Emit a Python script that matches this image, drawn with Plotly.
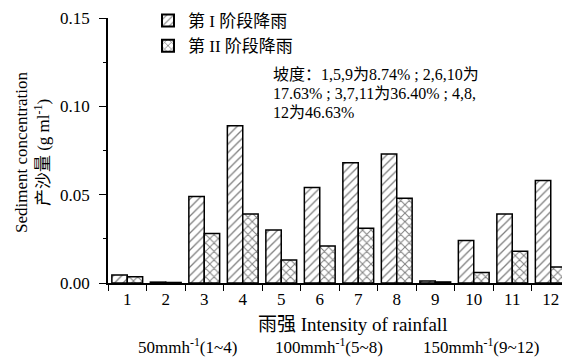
import plotly.graph_objects as go

categories = ["1", "2", "3", "4", "5", "6", "7", "8", "9", "10", "11", "12"]
stage1 = [0.0045, 0.0005, 0.049, 0.089, 0.030, 0.054, 0.068, 0.073, 0.0012, 0.024, 0.039, 0.058]
stage2 = [0.0035, 0.0003, 0.028, 0.039, 0.013, 0.021, 0.031, 0.048, 0.0006, 0.006, 0.018, 0.009]
series_names = ["第 I 阶段降雨", "第 II 阶段降雨"]
y_ticks = [0.0, 0.05, 0.10, 0.15]
y_tick_labels = ["0.00", "0.05", "0.10", "0.15"]

FONT = "Liberation Serif, Noto Sans CJK SC, serif"
OFF = 8  # default page body margin
PW, PH = 570, 361
W, H = PW - OFF, PH - OFF
# plot area in page pixels
X0, X1, Y0, Y1 = 108, 570, 18, 283
L, R, T, B = X0 - OFF, PW - X1, Y0 - OFF, PH - Y1

def px(x):
    return (x - X0) / (X1 - X0)

def py(y):
    return (Y1 - y) / (Y1 - Y0)

fig = go.Figure()
fig.add_trace(go.Bar(
    x=categories, y=stage1, name=series_names[0],
    marker=dict(color="white", line=dict(color="black", width=1.5),
                pattern=dict(shape="/", fgcolor="black", bgcolor="white", size=6, solidity=0.22)),
))
fig.add_trace(go.Bar(
    x=categories, y=stage2, name=series_names[1],
    marker=dict(color="white", line=dict(color="black", width=1.5),
                pattern=dict(shape="x", fgcolor="black", bgcolor="white", size=6, solidity=0.3)),
))

fig.update_layout(
    width=W, height=H,
    margin=dict(l=L, r=R, t=T, b=B, autoexpand=False),
    paper_bgcolor="white", plot_bgcolor="white",
    barmode="group", bargap=0.2, bargroupgap=0,
    font=dict(family=FONT, size=17, color="black"),
    showlegend=True,
    legend=dict(x=px(148), y=py(3), xanchor="left", yanchor="top",
                font=dict(size=17, family="Liberation Serif, Noto Sans CJK SC"),
                bgcolor="rgba(0,0,0,0)", tracegroupgap=0, itemsizing="constant"),
    xaxis=dict(type="category", showline=True, linecolor="black", linewidth=1.5,
               ticks="outside", tickson="boundaries", ticklen=6, tickcolor="black", tickwidth=1.3,
               showgrid=False, zeroline=False, tickfont=dict(size=17, family=FONT),
               ticklabeloverflow="allow"),
    yaxis=dict(range=[0, 0.15], tickmode="array", tickvals=y_ticks,
               ticktext=y_tick_labels, ticklabeloverflow="allow",
               showline=True, linecolor="black", linewidth=1.5,
               ticks="outside", ticklen=7, tickcolor="black", tickwidth=1.3,
               ticklabelstandoff=6,
               minor=dict(tickvals=[0.025, 0.075, 0.125], ticks="outside", ticklen=3, tickcolor="black"),
               showgrid=False, zeroline=False, tickfont=dict(size=17, family=FONT)),
)

slope_lines = [
    "坡度：1,5,9为8.74% ; 2,6,10为",
    "17.63% ; 3,7,11为36.40% ; 4,8,",
    "12为46.63%",
]
for txt, yc in zip(slope_lines, [75, 93.5, 112]):
    fig.add_annotation(
        text=txt, xref="paper", yref="paper", x=px(272), y=py(yc),
        xanchor="left", yanchor="middle", align="left", showarrow=False,
        font=dict(size=16, family=FONT), borderpad=0,
    )

fig.add_annotation(
    text="Sediment concentration<br>产沙量 (g ml<sup>-1</sup>)",
    xref="paper", yref="paper", x=px(32), y=py(153), xanchor="center", yanchor="middle",
    textangle=-90, showarrow=False, font=dict(size=17, family=FONT),
)
fig.add_annotation(
    text="雨强 Intensity of rainfall",
    xref="paper", yref="paper", x=px(352), y=py(324), xanchor="center", yanchor="middle",
    showarrow=False, font=dict(size=19, family=FONT),
)
intensity_groups = ["50mmh<sup>-1</sup>(1~4)", "100mmh<sup>-1</sup>(5~8)", "150mmh<sup>-1</sup>(9~12)"]
for txt, xc in zip(intensity_groups, [187, 329, 481]):
    fig.add_annotation(
        text=txt, xref="paper", yref="paper", x=px(xc), y=py(346),
        xanchor="center", yanchor="middle", showarrow=False,
        font=dict(size=17, family=FONT),
    )

fig.write_html("out.html")
